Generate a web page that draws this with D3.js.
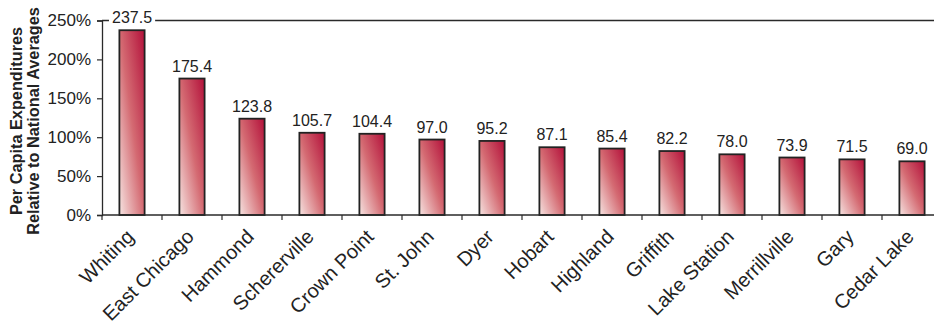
<!DOCTYPE html>
<html>
<head>
<meta charset="utf-8">
<script src="https://cdn.jsdelivr.net/npm/d3@7"></script>
<style>
  html, body { margin: 0; padding: 0; background: #fff; }
  svg { display: block; font-family: "Liberation Sans", Arial, Helvetica, sans-serif; }
</style>
</head>
<body>
<svg id="chart" width="934" height="325"></svg>
<script>
// Per capita expenditures of Lake County communities, relative to national averages (%)
const cities = ["Whiting", "East Chicago", "Hammond", "Schererville", "Crown Point", "St. John",
  "Dyer", "Hobart", "Highland", "Griffith", "Lake Station", "Merrillville", "Gary", "Cedar Lake"];
const values = [237.5, 175.4, 123.8, 105.7, 104.4, 97.0, 95.2, 87.1, 85.4, 82.2, 78.0, 73.9, 71.5, 69.0];
const yTicks = [0, 50, 100, 150, 200, 250];
const yTitle = ["Per Capita Expenditures", "Relative to National Averages"];

const svg = d3.select("#chart");
const plotLeft = 102, plotRight = 942, plotTop = 20.5, plotBottom = 215;

const x = d3.scaleBand().domain(cities).range([plotLeft, plotRight]).paddingInner(0.58).paddingOuter(0.29);
const y = d3.scaleLinear().domain([0, 250]).range([plotBottom, plotTop]);

// bar fill: deep crimson at the top-right fading to pale pink at the bottom-left
const grad = svg.append("defs").append("linearGradient")
  .attr("id", "barFill").attr("x1", 1).attr("y1", 0).attr("x2", 0).attr("y2", 1);
grad.append("stop").attr("offset", "0%").attr("stop-color", "#b3103a");
grad.append("stop").attr("offset", "50%").attr("stop-color", "#d46a72");
grad.append("stop").attr("offset", "100%").attr("stop-color", "#f6e4e1");

// top frame line at 250%
svg.append("line")
  .attr("x1", plotLeft).attr("x2", 934).attr("y1", y(250)).attr("y2", y(250))
  .attr("stroke", "#2a2a2a").attr("stroke-width", 1.6);

// y axis
const yAxis = svg.append("g").attr("transform", `translate(${plotLeft},0)`)
  .call(d3.axisLeft(y).tickValues(yTicks).tickFormat(d => d + "%").tickSize(5).tickPadding(6));
yAxis.select(".domain").attr("stroke", "#2a2a2a").attr("stroke-width", 1.3);
yAxis.selectAll(".tick line").attr("stroke", "#2a2a2a").attr("stroke-width", 1.2);
yAxis.selectAll("text").attr("font-size", 17).attr("fill", "#222").attr("font-family", null);

// bars
svg.append("g").selectAll("rect").data(values).join("rect")
  .attr("x", (d, i) => x(cities[i]))
  .attr("y", d => y(d))
  .attr("width", x.bandwidth())
  .attr("height", d => y(0) - y(d))
  .attr("fill", "url(#barFill)")
  .attr("stroke", "#222").attr("stroke-width", 1.8);

// x axis with ticks between categories
const xAxis = svg.append("g").attr("transform", `translate(0,${plotBottom})`);
xAxis.append("line").attr("x1", plotLeft).attr("x2", 934).attr("y1", 0).attr("y2", 0)
  .attr("stroke", "#2a2a2a").attr("stroke-width", 1.3);
const step = x.step();
xAxis.selectAll(".sep").data(d3.range(cities.length)).join("line")
  .attr("class", "sep")
  .attr("x1", i => plotLeft + i * step).attr("x2", i => plotLeft + i * step)
  .attr("y1", 0).attr("y2", 5)
  .attr("stroke", "#2a2a2a").attr("stroke-width", 1.2);
xAxis.selectAll(".lab").data(cities).join("text")
  .attr("class", "lab")
  .attr("transform", d => `translate(${x(d) + x.bandwidth() / 2 + 3},${23}) rotate(-45)`)
  .attr("text-anchor", "end")
  .attr("font-size", 20).attr("fill", "#222")
  .text(d => d);

// value labels
const labels = svg.append("g").selectAll("g").data(values).join("g")
  .attr("transform", (d, i) => `translate(${x(cities[i]) + x.bandwidth() / 2},${y(d) - 7})`);
labels.each(function(d) {
  const g = d3.select(this);
  const t = g.append("text").attr("text-anchor", "middle")
    .attr("font-size", 16).attr("fill", "#222").text(d.toFixed(1));
  const b = t.node().getBBox();
  g.insert("rect", "text")
    .attr("x", b.x - 3).attr("y", b.y).attr("width", b.width + 6).attr("height", b.height)
    .attr("fill", "#fff");
});

// y axis title
const title = svg.append("text")
  .attr("transform", `translate(0,121) rotate(-90)`)
  .attr("text-anchor", "middle").attr("font-weight", "bold")
  .attr("font-size", 16.3).attr("fill", "#222");
title.selectAll("tspan").data(yTitle).join("tspan")
  .attr("x", 0).attr("y", (d, i) => 22 + i * 17)
  .text(d => d);
</script>
</body>
</html>
